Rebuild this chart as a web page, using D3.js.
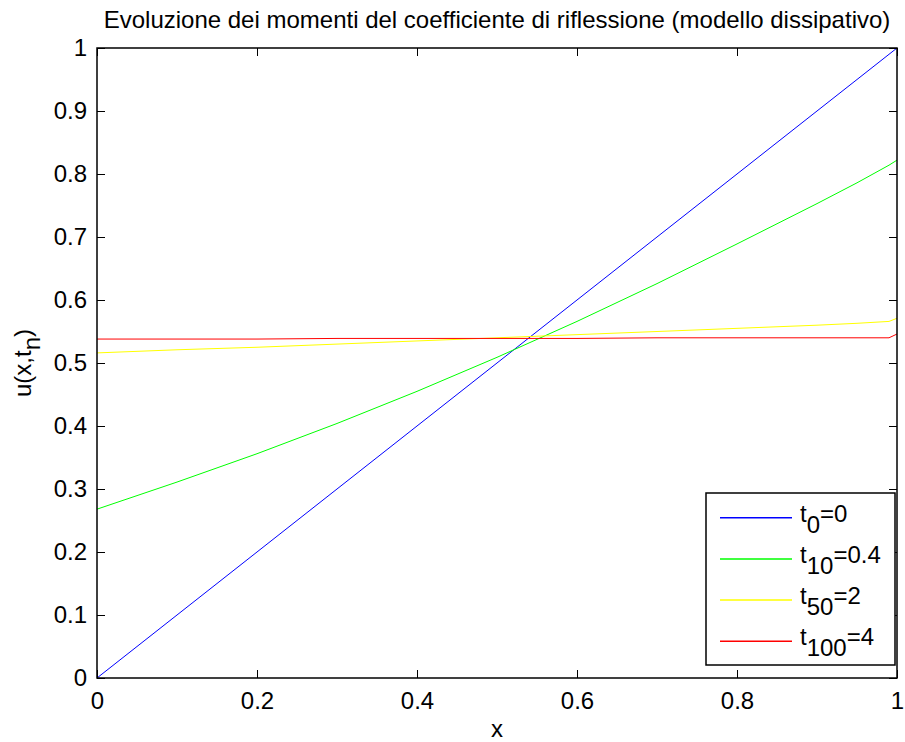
<!DOCTYPE html>
<html>
<head>
<meta charset="utf-8">
<script src="https://cdn.jsdelivr.net/npm/d3@7"></script>
<style>
  body { margin: 0; background: #fff; }
  text { font-family: "Liberation Sans", Arial, sans-serif; fill: #000; }
</style>
</head>
<body>
<svg id="chart" width="905" height="742"></svg>
<script>
// sample points along x (0..1)
const xs = [0, 0.1, 0.2, 0.3, 0.4, 0.5, 0.6, 0.7, 0.8, 0.9, 0.95, 0.99, 1];
const uT0 = [0, 0.1, 0.2, 0.3, 0.4, 0.5, 0.6, 0.7, 0.8, 0.9, 0.95, 0.99, 1];
const uT10 = [0.268, 0.311, 0.356, 0.404, 0.455, 0.509, 0.566, 0.626, 0.689, 0.753, 0.786, 0.814, 0.822];
const uT50 = [0.516, 0.521, 0.525, 0.530, 0.535, 0.540, 0.545, 0.550, 0.555, 0.560, 0.563, 0.566, 0.571];
const uT100 = [0.538, 0.538, 0.538, 0.539, 0.539, 0.539, 0.539, 0.540, 0.540, 0.540, 0.540, 0.540, 0.546];

const legendLabels = [
  {sub: '0', val: '=0'},
  {sub: '10', val: '=0.4'},
  {sub: '50', val: '=2'},
  {sub: '100', val: '=4'}
];
const colors = ['#0000ff', '#00ff00', '#ffff00', '#ff0000'];
const xTicks = [0, 0.2, 0.4, 0.6, 0.8, 1];
const yTicks = [0, 0.1, 0.2, 0.3, 0.4, 0.5, 0.6, 0.7, 0.8, 0.9, 1];

const MARGIN = {top: 48, right: 8, bottom: 64, left: 97};
const width = 905, height = 742;
const innerW = width - MARGIN.left - MARGIN.right;
const innerH = height - MARGIN.top - MARGIN.bottom;
const FONT = '24px';

const svg = d3.select('#chart');
const g = svg.append('g').attr('transform', `translate(${MARGIN.left},${MARGIN.top})`);

const x = d3.scaleLinear().domain([0, 1]).range([0, innerW]);
const y = d3.scaleLinear().domain([0, 1]).range([innerH, 0]);
const fmt = d3.format('~g');

const series = [uT0, uT10, uT50, uT100].map(vals => xs.map((v, i) => [v, vals[i]]));

const line = d3.line().x(d => x(d[0])).y(d => y(d[1]));

g.selectAll('.series')
  .data(series)
  .enter().append('path')
    .attr('class', 'series')
    .attr('d', line)
    .attr('fill', 'none')
    .attr('stroke', (d, i) => colors[i])
    .attr('stroke-width', 1);

// axes (ticks pointing inward on all four sides)
const styleAxis = sel => {
  sel.attr('font-family', null).attr('font-size', null);
  sel.selectAll('.domain').remove();
  sel.selectAll('.tick line').attr('stroke', '#000').attr('stroke-width', 1);
  sel.selectAll('.tick text').style('font-size', FONT).attr('fill', '#000');
};

g.append('g')
  .attr('transform', `translate(0,${innerH})`)
  .call(d3.axisBottom(x).tickValues(xTicks).tickFormat(fmt).tickSizeInner(-8).tickSizeOuter(0).tickPadding(14))
  .call(styleAxis);

g.append('g')
  .call(d3.axisTop(x).tickValues(xTicks).tickFormat('').tickSizeInner(-8).tickSizeOuter(0))
  .call(styleAxis);

g.append('g')
  .call(d3.axisLeft(y).tickValues(yTicks).tickFormat(fmt).tickSizeInner(-8).tickSizeOuter(0).tickPadding(10))
  .call(styleAxis);

g.append('g')
  .attr('transform', `translate(${innerW},0)`)
  .call(d3.axisRight(y).tickValues(yTicks).tickFormat('').tickSizeInner(-8).tickSizeOuter(0))
  .call(styleAxis);

g.append('rect')
  .attr('width', innerW)
  .attr('height', innerH)
  .attr('fill', 'none')
  .attr('stroke', '#000')
  .attr('stroke-width', 1.5);

// title + axis labels
svg.append('text')
  .attr('x', MARGIN.left + innerW / 2)
  .attr('y', 27.5)
  .attr('text-anchor', 'middle')
  .style('font-size', FONT)
  .text('Evoluzione dei momenti del coefficiente di riflessione (modello dissipativo)');

svg.append('text')
  .attr('x', MARGIN.left + innerW / 2)
  .attr('y', 737)
  .attr('text-anchor', 'middle')
  .style('font-size', FONT)
  .text('x');

const yl = svg.append('text')
  .attr('transform', `translate(31,${MARGIN.top + innerH / 2}) rotate(-90)`)
  .attr('text-anchor', 'middle')
  .style('font-size', FONT);
yl.append('tspan').text('u(x,t');
yl.append('tspan').attr('dy', 9).text('n');
yl.append('tspan').attr('dy', -9).text(')');

// legend
const lg = svg.append('g').attr('transform', 'translate(706,493)');
lg.append('rect')
  .attr('width', 189)
  .attr('height', 172)
  .attr('fill', '#fff')
  .attr('stroke', '#000')
  .attr('stroke-width', 1.5);

const item = lg.selectAll('.item')
  .data(legendLabels)
  .enter().append('g')
    .attr('class', 'item')
    .attr('transform', (d, i) => `translate(0,${24.7 + i * 41.2})`);

item.append('line')
  .attr('x1', 14).attr('x2', 86)
  .attr('stroke', (d, i) => colors[i])
  .attr('stroke-width', 1.5);

const lt = item.append('text')
  .attr('x', 94)
  .attr('y', 4)
  .style('font-size', FONT);
lt.append('tspan').text('t');
lt.append('tspan').attr('dy', 11).text(d => d.sub);
lt.append('tspan').attr('dy', -11).text(d => d.val);
</script>
</body>
</html>
